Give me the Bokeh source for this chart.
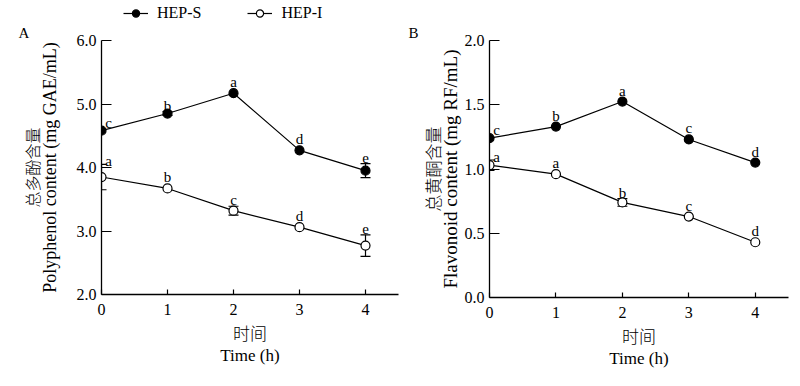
from bokeh.plotting import figure
from bokeh.layouts import row, column
from bokeh.models import (ColumnDataSource, FixedTicker, PrintfTickFormatter, Whisker,
                          TeeHead, Legend, LegendItem, Range1d, LinearAxis, Title)
from bokeh.core.properties import value
from bokeh.embed import file_html
from bokeh.resources import INLINE

# ---------------- data ----------------
time_h = [0, 1, 2, 3, 4]
x_ticks = [0, 1, 2, 3, 4]

polyphenol_hep_s = [4.58, 4.85, 5.17, 4.27, 3.95]
polyphenol_hep_s_err = [0.0, 0.03, 0.0, 0.0, 0.11]
polyphenol_hep_s_letters = ["c", "b", "a", "d", "e"]
polyphenol_hep_i = [3.85, 3.67, 3.32, 3.06, 2.77]
polyphenol_hep_i_err = [0.20, 0.0, 0.07, 0.0, 0.17]
polyphenol_hep_i_letters = ["a", "b", "c", "d", "e"]

flavonoid_hep_s = [1.24, 1.33, 1.525, 1.23, 1.05]
flavonoid_hep_s_err = [0.0, 0.0, 0.0, 0.0, 0.0]
flavonoid_hep_s_letters = ["c", "b", "a", "c", "d"]
flavonoid_hep_i = [1.03, 0.96, 0.74, 0.63, 0.43]
flavonoid_hep_i_err = [0.04, 0.0, 0.03, 0.0, 0.0]
flavonoid_hep_i_letters = ["a", "a", "b", "c", "d"]

y_ticks_a = [2.0, 3.0, 4.0, 5.0, 6.0]
y_ticks_b = [0.0, 0.5, 1.0, 1.5, 2.0]

series_names = ["HEP-S", "HEP-I"]
x_label = "时间\nTime (h)"
panel_a_labels = ("A", "总多酚含量", "Polyphenol content (mg GAE/mL)")
panel_b_labels = ("B", "总黄酮含量", "Flavonoid content (mg RF/mL)")

SERIF = "Liberation Serif"
CJK = "Noto Sans CJK SC Light, Noto Sans CJK SC"
MIXED = "Liberation Serif, Noto Sans CJK SC Light, Noto Sans CJK SC"


def make_panel(width, height, borders, y_ticks, series, labels, title_offset,
               en_size, en_standoff, zh_size, zh_standoff):
    left, right, top, bottom = borders
    p = figure(width=width, height=height, output_backend="svg", toolbar_location=None,
               x_range=Range1d(0, 4.5), y_range=Range1d(y_ticks[0], y_ticks[-1]),
               min_border_left=left, min_border_right=right,
               min_border_top=top, min_border_bottom=bottom)
    p.outline_line_color = None
    p.grid.visible = False
    p.background_fill_color = "white"
    p.border_fill_color = "white"

    letter, zh, en = labels
    p.title = Title(text=letter, align="left", offset=title_offset, standoff=0,
                    text_font=SERIF, text_font_size="15px", text_font_style="normal",
                    text_color="black")

    # axes
    p.xaxis.ticker = FixedTicker(ticks=x_ticks)
    p.yaxis.ticker = FixedTicker(ticks=y_ticks)
    p.yaxis.formatter = PrintfTickFormatter(format="%.1f")
    for ax in (p.xaxis, p.yaxis):
        ax.axis_line_color = "black"
        ax.axis_line_width = 1.3
        ax.major_tick_line_color = "black"
        ax.major_tick_line_width = 1.2
        ax.major_tick_out = 0
        ax.minor_tick_line_color = None
        ax.major_label_text_font = SERIF
        ax.major_label_text_font_size = "16px"
        ax.major_label_text_color = "black"
        ax.axis_label_text_font_style = "normal"
        ax.axis_label_text_color = "black"
    p.xaxis.major_label_standoff = 9
    p.yaxis.major_label_standoff = 5
    p.xaxis.major_tick_in = 5
    p.yaxis.major_tick_in = 10
    p.xaxis.axis_label = x_label
    p.xaxis.axis_label_text_font = MIXED
    p.xaxis.axis_label_text_font_size = "17px"
    p.xaxis.axis_label_standoff = 7
    p.xaxis.axis_label_text_line_height = 1.15

    p.yaxis.axis_label = en
    p.yaxis.axis_label_text_font = SERIF
    p.yaxis.axis_label_text_font_size = en_size
    p.yaxis.axis_label_standoff = en_standoff

    zh_axis = LinearAxis(ticker=FixedTicker(ticks=[]), axis_label=zh,
                         axis_line_color=None, major_tick_line_color=None,
                         minor_tick_line_color=None, major_tick_in=0, major_tick_out=0,
                         minor_tick_in=0, minor_tick_out=0, major_label_standoff=0,
                         axis_label_standoff=zh_standoff,
                         axis_label_text_font=CJK,
                         axis_label_text_font_size=zh_size,
                         axis_label_text_font_style="normal",
                         axis_label_text_color="black")
    p.add_layout(zh_axis, "left")

    for vals, errs, letters, fill in series:
        p.line(time_h, vals, line_color="black", line_width=1.2)
        ex = [t for t, e in zip(time_h, errs) if e > 0]
        eu = [v + e for v, e in zip(vals, errs) if e > 0]
        el = [v - e for v, e in zip(vals, errs) if e > 0]
        if ex:
            src = ColumnDataSource(dict(x=ex, upper=eu, lower=el))
            w = Whisker(source=src, base="x", upper="upper", lower="lower", dimension="height",
                        line_color="black", line_width=1.2, level="underlay",
                        upper_head=TeeHead(size=10, line_color="black", line_width=1.2),
                        lower_head=TeeHead(size=10, line_color="black", line_width=1.2))
            p.add_layout(w)
        p.scatter(time_h, vals, marker="circle", size=9, fill_color=fill,
                  line_color="black", line_width=1.2)
        ty = [v + e for v, e in zip(vals, errs)]
        xo = [7 if t == 0 else 0 for t in time_h]
        yo = [(-6 if e > 0 else -11) + (3 if t == 0 else 0) for t, e in zip(time_h, errs)]
        tsrc = ColumnDataSource(dict(x=time_h, y=ty, text=letters, xo=xo, yo=yo))
        p.text(x="x", y="y", text="text", x_offset="xo", y_offset="yo", source=tsrc,
               text_font=value(SERIF), text_font_size="15px", text_color="black",
               text_align="center", text_baseline="alphabetic")
    return p


pa = make_panel(
    404, 359, (101, 6, 18, 87), y_ticks_a,
    [(polyphenol_hep_s, polyphenol_hep_s_err, polyphenol_hep_s_letters, "black"),
     (polyphenol_hep_i, polyphenol_hep_i_err, polyphenol_hep_i_letters, "white")],
    panel_a_labels, -83, "18px", 14, "16px", -7)

pb = make_panel(
    392, 362, (85, 8, 18, 87), y_ticks_b,
    [(flavonoid_hep_s, flavonoid_hep_s_err, flavonoid_hep_s_letters, "black"),
     (flavonoid_hep_i, flavonoid_hep_i_err, flavonoid_hep_i_letters, "white")],
    panel_b_labels, -81, "19px", 1, "17px", -8)

# legend strip on top (placeholder renderers carry only the legend's styling)
lf = figure(width=404, height=22, output_backend="svg", toolbar_location=None,
            x_range=Range1d(0, 1), y_range=Range1d(0, 1),
            x_axis_location=None, y_axis_location=None,
            min_border=0, min_border_left=0, min_border_right=0,
            min_border_top=0, min_border_bottom=0)
lf.outline_line_color = None
lf.grid.visible = False
items = []
nan = float("nan")
for name, fill in zip(series_names, ["black", "white"]):
    r_line = lf.line(x=[nan], y=[nan], line_color="black", line_width=1.2)
    r_pt = lf.scatter(x=[nan], y=[nan], marker="circle", size=9, fill_color=fill,
                      line_color="black", line_width=1.2)
    items.append(LegendItem(label=name, renderers=[r_line, r_pt]))
legend = Legend(items=items, location=(123, 0), orientation="horizontal",
                glyph_width=25, glyph_height=18, label_height=18, label_standoff=9,
                spacing=46, padding=0, margin=0, border_line_color=None,
                background_fill_alpha=0, label_text_font=SERIF,
                label_text_font_size="16px", label_text_color="black")
lf.add_layout(legend)

layout = column(lf, row(pa, pb))
open("out.html", "w").write(file_html(layout, INLINE))
